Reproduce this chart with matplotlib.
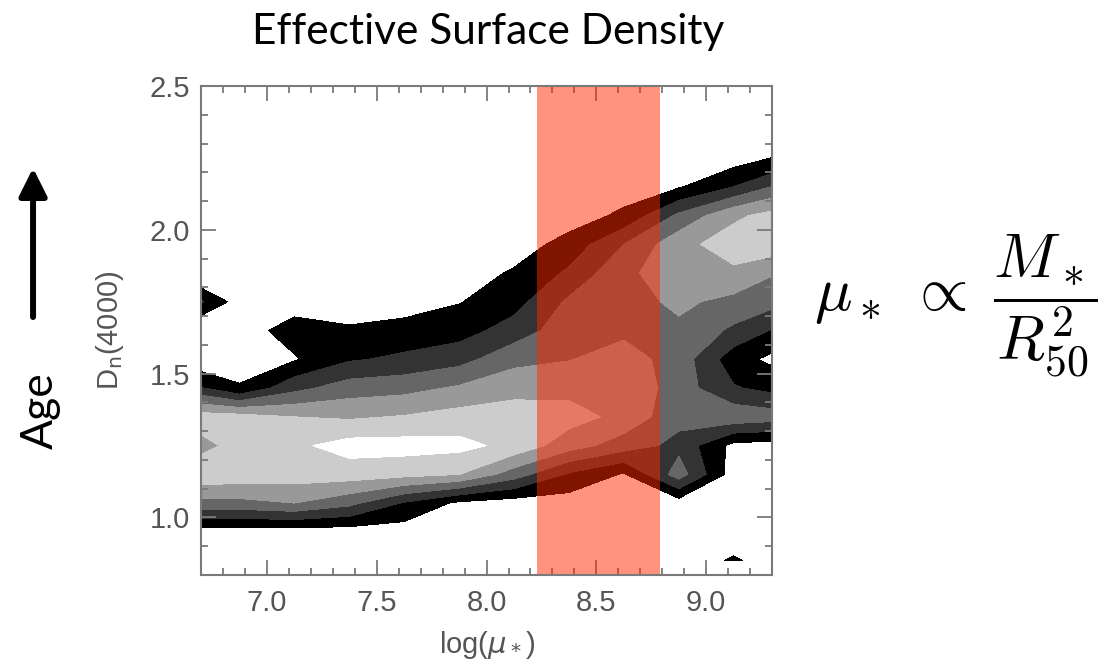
import numpy as np
import matplotlib.pyplot as plt
from matplotlib.ticker import MultipleLocator, FormatStrFormatter

# bin centres of the 2D histogram
mu_centres = [6.625, 6.875, 7.125, 7.375, 7.625, 7.875,
              8.125, 8.375, 8.625, 8.875, 9.125, 9.375]
dn_centres = [0.85, 0.95, 1.05, 1.15, 1.25, 1.35, 1.45, 1.55, 1.65,
              1.75, 1.85, 1.95, 2.05, 2.15, 2.25, 2.35, 2.45]

# contour level of each bin, one row per D_n(4000) bin (bottom to top)
density = [
    [0, 0, 0, 0, 0, 0, 0, 0, 0, 0, 0.6, 0],
    [0, 0, 0, 0, 0, 0, 0, 0, 0, 0, 0, 0],
    [3.2, 3.2, 3.5, 2.78, 1.4, 0.3, 0, 0, 0, 0, 0, 0],
    [5.3, 5.1, 5.0, 5.0, 4.8, 4.52, 3.0, 1.36, 0.4, 3.0, 0, 0],
    [3.3, 5.2, 5.3, 5.9, 5.9, 5.8, 5.2, 3.95, 3.0, 2.2, 0.2, 0],
    [5.0, 4.9, 4.5, 4.36, 4.57, 4.9, 5.0, 4.9, 4.2, 2.8, 3.2, 2.9],
    [2.0, 0.6, 2.2, 3.0, 3.17, 3.64, 4.15, 4.2, 4.3, 3.0, 1.6, 1.0],
    [0, 0, 0.4, 1.39, 1.7, 2.13, 3.2, 3.46, 3.9, 3.1, 0.9, 0],
    [0, 0, 0.95, 0.62, 0.89, 1.07, 1.95, 3.07, 3.3, 3.3, 2.3, 1.05],
    [2.3, 0, 0, 0, 0, 0.45, 1.1, 2.69, 3.1, 3.7, 3.2, 2.54],
    [0, 0, 0, 0, 0, 0, 0.62, 1.67, 3.3, 4.0, 4.3, 3.33],
    [0, 0, 0, 0, 0, 0, 0, 0.86, 2.5, 4.17, 5.0, 5.0],
    [0, 0, 0, 0, 0, 0, 0, 0, 0.7, 2.7, 4.3, 5.03],
    [0, 0, 0, 0, 0, 0, 0, 0, 0, 0.4, 1.5, 2.97],
    [0, 0, 0, 0, 0, 0, 0, 0, 0, 0, 0, 0.74],
    [0, 0, 0, 0, 0, 0, 0, 0, 0, 0, 0, 0],
    [0, 0, 0, 0, 0, 0, 0, 0, 0, 0, 0, 0],
]

levels = [0.5, 1.5, 2.5, 3.5, 4.5, 5.5, 10]
shades = ['#000000', '#333333', '#666666', '#999999', '#cccccc', '#ffffff']

# highlighted surface density range
band_lo, band_hi = 8.23, 8.79

grey = '#7a7a7a'
plt.rcParams['font.family'] = ['Liberation Sans', 'DejaVu Sans']

fig = plt.figure(figsize=(11.09, 6.68), dpi=100)
ax = fig.add_axes([0.1813, 0.1392, 0.5149, 0.7320])

ax.contourf(mu_centres, dn_centres, np.array(density), levels=levels, colors=shades)
ax.axvspan(band_lo, band_hi, color='#ff2800', alpha=0.5, lw=0, zorder=3)

ax.set_xlim(6.7, 9.3)
ax.set_ylim(0.8, 2.5)
ax.xaxis.set_major_locator(MultipleLocator(0.5))
ax.xaxis.set_minor_locator(MultipleLocator(0.1))
ax.yaxis.set_major_locator(MultipleLocator(0.5))
ax.yaxis.set_minor_locator(MultipleLocator(0.1))
ax.xaxis.set_major_formatter(FormatStrFormatter('%.1f'))
ax.yaxis.set_major_formatter(FormatStrFormatter('%.1f'))

ax.tick_params(which='both', direction='in', top=True, right=True,
               color=grey, width=1.3, labelcolor='#555555', labelsize=21)
ax.tick_params(which='major', length=10.5)
ax.tick_params(which='minor', length=5)
ax.tick_params(axis='x', pad=10)
ax.tick_params(axis='y', pad=8)
for s in ax.spines.values():
    s.set_color(grey)
    s.set_linewidth(1.5)
    s.set_zorder(4)

ax.set_xlabel(r'log($\mu_*$)', fontsize=21, color='#555555', labelpad=9)
ax.set_ylabel(r'D$_{\rm n}$(4000)', fontsize=21, color='#555555', labelpad=17)

fig.text(0.44, 0.952, 'Effective Surface Density', ha='center', va='center',
         fontsize=30.5, family='Lato')

# age arrow on the left
ax.annotate('', xy=(0.0298, 0.7485), xytext=(0.0298, 0.5254),
            xycoords='figure fraction', textcoords='figure fraction',
            arrowprops=dict(arrowstyle='-|>', lw=4.3, color='black',
                            mutation_scale=42, shrinkA=0, shrinkB=0))
fig.text(0.036, 0.386, 'Age', rotation=90, ha='center', va='center',
         fontsize=32, family='Lato')

fig.text(0.862, 0.542, r'$\mu_* \;\propto\; \dfrac{M_*}{R_{50}^2}$',
         ha='center', va='center', fontsize=45, math_fontfamily='cm')

fig.savefig('out.png', dpi=100)
